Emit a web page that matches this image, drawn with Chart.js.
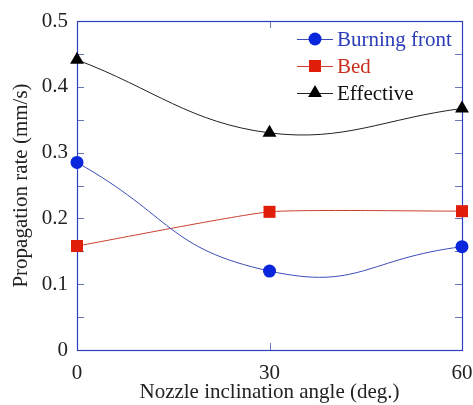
<!DOCTYPE html>
<html>
<head>
<meta charset="utf-8">
<script src="https://cdn.jsdelivr.net/npm/chart.js@4.4.1/dist/chart.umd.min.js"></script>
<style>
html,body{margin:0;padding:0;background:#fff;}
#wrap{width:473px;height:405px;position:relative;}
</style>
</head>
<body>
<div id="wrap"><canvas id="c" width="473" height="405"></canvas></div>
<script>
// ---- data ----
const angles = [0, 30, 60];
const burningFront = [0.285, 0.120, 0.157];
const bed = [0.158, 0.210, 0.211];
const effective = [0.441, 0.330, 0.367];
const seriesNames = ['Burning front', 'Bed', 'Effective'];
const xTicks = [0, 30, 60];
const yTicks = [0, 0.1, 0.2, 0.3, 0.4, 0.5];
const xTitle = 'Nozzle inclination angle (deg.)';
const yTitle = 'Propagation rate (mm/s)';

const FONT = "'Liberation Serif', 'Times New Roman', serif";
const frameColor = '#2a40c0';
const tickColor = '#6878b8';

function pts(vals){ return angles.map((a,i)=>({x:a, y:vals[i]})); }

const styles = [
  {line:'#3a4cb4', fill:'#0a26dc', text:'#2a3cb8', pointStyle:'circle', r:6.5, tension:0.5},
  {line:'#c8402c', fill:'#e01e0a', text:'#c8301c', pointStyle:'rect', r:8.5, tension:0.15},
  {line:'#222222', fill:'#000000', text:'#111111', pointStyle:'triangle', r:8, tension:0.4}
];
const seriesVals = [burningFront, bed, effective];

const datasets = seriesVals.map((v,i)=>({
  label: seriesNames[i],
  data: pts(v),
  borderColor: styles[i].line,
  backgroundColor: styles[i].fill,
  pointBackgroundColor: styles[i].fill,
  pointBorderColor: styles[i].fill,
  pointBorderWidth: 0,
  pointStyle: styles[i].pointStyle,
  pointRadius: styles[i].r,
  borderWidth: 1,
  tension: styles[i].tension,
  clip: false
}));

function drawMarker(ctx, style, x, y, r, color){
  ctx.save();
  ctx.fillStyle = color;
  ctx.beginPath();
  if(style==='circle'){ ctx.arc(x,y,r,0,Math.PI*2); }
  else if(style==='rect'){ const s=Math.SQRT1_2*r; ctx.rect(x-s,y-s,2*s,2*s); }
  else if(style==='triangle'){
    ctx.moveTo(x, y - r);
    ctx.lineTo(x + Math.sin(2*Math.PI/3)*r, y - Math.cos(2*Math.PI/3)*r);
    ctx.lineTo(x + Math.sin(4*Math.PI/3)*r, y - Math.cos(4*Math.PI/3)*r);
    ctx.closePath();
  }
  ctx.fill();
  ctx.restore();
}

const framePlugin = {
  id:'frame',
  beforeDatasetsDraw(chart){
    const {ctx, chartArea:a, scales} = chart;
    const xs = scales.x, ys = scales.y;
    ctx.save();
    ctx.strokeStyle = tickColor;
    ctx.lineWidth = 1;
    const tl = 7;
    ctx.beginPath();
    for(let v=0; v<=0.5001; v+=0.05){
      const y = Math.round(ys.getPixelForValue(v))+0.5;
      ctx.moveTo(a.left, y); ctx.lineTo(a.left+tl, y);
      ctx.moveTo(a.right, y); ctx.lineTo(a.right-tl, y);
    }
    xTicks.forEach(v=>{
      const x = Math.round(xs.getPixelForValue(v))+0.5;
      ctx.moveTo(x, a.bottom); ctx.lineTo(x, a.bottom-tl);
      ctx.moveTo(x, a.top); ctx.lineTo(x, a.top+tl);
    });
    ctx.stroke();
    ctx.strokeStyle = frameColor;
    ctx.lineWidth = 1.2;
    ctx.strokeRect(Math.round(a.left)+0.5, Math.round(a.top)+0.5, Math.round(a.right-a.left), Math.round(a.bottom-a.top));
    ctx.restore();
  }
};

const legendPlugin = {
  id:'innerLegend',
  afterDatasetsDraw(chart){
    const {ctx, chartArea:a} = chart;
    ctx.save();
    const x0 = a.right - 165, x1 = a.right - 129, tx = a.right - 125;
    const y0 = a.top + 18, dy = 27;
    ctx.font = '21px ' + FONT;
    ctx.textBaseline = 'middle';
    seriesNames.forEach((n,i)=>{
      const y = y0 + i*dy;
      ctx.strokeStyle = styles[i].line;
      ctx.lineWidth = 1;
      ctx.beginPath(); ctx.moveTo(x0, y+0.5); ctx.lineTo(x1, y+0.5); ctx.stroke();
      drawMarker(ctx, styles[i].pointStyle, (x0+x1)/2, y, styles[i].r, styles[i].fill);
      ctx.fillStyle = styles[i].text;
      ctx.fillText(n, tx, y+1);
    });
    ctx.restore();
  }
};

new Chart(document.getElementById('c'), {
  type:'line',
  data:{datasets},
  options:{
    responsive:false,
    animation:false,
    layout:{padding:{top:21, right:11, bottom:0, left:0}},
    plugins:{legend:{display:false}, tooltip:{enabled:false}},
    scales:{
      x:{
        type:'linear', min:0, max:60,
        afterBuildTicks(s){ s.ticks = xTicks.map(v=>({value:v})); },
        afterFit(s){ s.height = 55; s.paddingRight = 0; s.paddingLeft = 0; },
        grid:{display:false, drawTicks:false},
        border:{display:false},
        ticks:{color:'#222', padding:11, font:{family:FONT, size:21}, maxRotation:0,
               callback:(v)=>String(v)},
        title:{display:true, text:xTitle, color:'#222', padding:{top:0,bottom:0}, font:{family:FONT, size:21}}
      },
      y:{
        type:'linear', min:0, max:0.5,
        afterBuildTicks(s){ s.ticks = yTicks.map(v=>({value:v})); },
        afterFit(s){ s.width = 77; s.paddingTop = 0; s.paddingBottom = 0; },
        grid:{display:false, drawTicks:false},
        border:{display:false},
        ticks:{color:'#222', padding:9, font:{family:FONT, size:21},
               callback:(v)=> v===0 ? '0' : Number(v).toFixed(1)},
        title:{display:true, text:yTitle, color:'#222', padding:{top:9,bottom:0}, font:{family:FONT, size:21}}
      }
    }
  },
  plugins:[framePlugin, legendPlugin]
});
</script>
</body>
</html>
